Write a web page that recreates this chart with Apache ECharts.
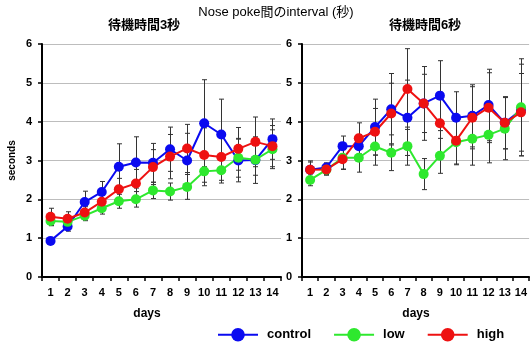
<!DOCTYPE html>
<html><head><meta charset="utf-8">
<script src="https://cdn.jsdelivr.net/npm/echarts@6/dist/echarts.min.js"></script>
<style>html,body{margin:0;padding:0;background:#fff}#c{width:530px;height:347px}</style>
</head><body><div id="c"></div>
<script>
const days = ['1','2','3','4','5','6','7','8','9','10','11','12','13','14'];
const yTicks = [0,1,2,3,4,5,6];
const seriesNames = ['control','low','high'];
const titleText = 'Nose poke間のinterval (秒)';
const panelTitles = ['待機時間3秒','待機時間6秒'];

// 待機時間3秒 (left panel)
const leftControl = [0.93,1.30,1.93,2.19,2.84,2.95,2.94,3.29,3.00,3.96,3.67,3.00,3.01,3.55];
const leftLow     = [1.44,1.42,1.58,1.77,1.95,2.00,2.23,2.20,2.32,2.72,2.75,3.07,3.02,3.29];
const leftHigh    = [1.55,1.50,1.66,1.94,2.26,2.41,2.83,3.10,3.31,3.14,3.09,3.30,3.48,3.37];
const leftControlErr = [0.05,0.12,0.28,0.27,0.59,0.66,0.50,0.57,0.70,1.12,0.91,0.55,0.60,0.52];
const leftLowErr     = [0.12,0.10,0.13,0.15,0.18,0.20,0.21,0.22,0.32,0.37,0.33,0.50,0.40,0.50];
const leftHighErr    = [0.22,0.18,0.15,0.25,0.28,0.36,0.45,0.57,0.62,0.70,0.60,0.55,0.64,0.53];

// 待機時間6秒 (right panel)
const rightControl = [2.76,2.82,3.37,3.37,3.86,4.32,4.10,4.47,4.67,4.10,4.15,4.43,3.97,4.30];
const rightLow     = [2.50,2.76,3.07,3.07,3.36,3.20,3.37,2.65,3.12,3.47,3.56,3.66,3.82,4.37];
const rightHigh    = [2.76,2.77,3.03,3.57,3.74,4.21,4.84,4.47,3.96,3.51,4.10,4.36,3.97,4.24];
const rightControlErr = [0.20,0.12,0.26,0.30,0.72,0.92,0.97,0.95,0.90,0.67,0.80,0.92,0.67,1.18];
const rightLowErr     = [0.15,0.12,0.30,0.37,0.48,0.46,0.49,0.40,0.45,0.58,0.68,0.72,0.80,1.25];
const rightHighErr    = [0.23,0.15,0.25,0.40,0.60,0.78,1.04,0.75,0.80,0.60,0.80,0.90,0.67,1.00];

const colors = {control:'#0a0af0', low:'#2ee82e', high:'#ee1111'};
const FONT = '"Liberation Sans", Arial, sans-serif';
const CJK = '"Liberation Sans", "Noto Sans CJK JP", sans-serif';

const chart = echarts.init(document.getElementById('c'), null, {renderer:'canvas'});

function errData(vals, errs){ return vals.map((v,i)=>[i, v-errs[i], v+errs[i]]); }
function errSeries(idx, vals, errs){
  return {
    type:'custom', xAxisIndex:idx, yAxisIndex:idx, z:1, silent:true,
    data: errData(vals, errs),
    renderItem: function(params, api){
      const lo = api.coord([api.value(0), api.value(1)]);
      const hi = api.coord([api.value(0), api.value(2)]);
      const x = Math.round(lo[0]) + 0.5, w = 2.5;
      const st = {stroke:'#333', lineWidth:1};
      return {type:'group', children:[
        {type:'line', shape:{x1:x,y1:lo[1],x2:x,y2:hi[1]}, style:st},
        {type:'line', shape:{x1:x-w,y1:lo[1],x2:x+w,y2:lo[1]}, style:st},
        {type:'line', shape:{x1:x-w,y1:hi[1],x2:x+w,y2:hi[1]}, style:st}
      ]};
    }
  };
}
function lineSeries(idx, name, vals){
  return {
    type:'line', name:name, xAxisIndex:idx, yAxisIndex:idx, z:3,
    data: vals, symbol:'circle', symbolSize:10, showSymbol:true,
    itemStyle:{color:colors[name]}, lineStyle:{color:colors[name], width:2},
    emphasis:{disabled:true}, animation:false
  };
}
function xAxis(idx){
  return {
    type:'category', gridIndex:idx, data:days, boundaryGap:true,
    axisLine:{lineStyle:{color:'#000', width:2}},
    axisTick:{show:true, alignWithLabel:false, length:4, inside:false, lineStyle:{color:'#000', width:1.5}},
    axisLabel:{color:'#000', fontWeight:'bold', fontSize:11, fontFamily:FONT, margin:10, interval:0},
    splitLine:{show:false}
  };
}
function yAxis(idx){
  return {
    type:'value', gridIndex:idx, min:yTicks[0], max:yTicks[yTicks.length-1], interval:1,
    name: idx===0 ? 'seconds' : '', nameLocation:'middle', nameRotate:90, nameGap:25,
    nameTextStyle:{color:'#000', fontWeight:'bold', fontSize:10, fontFamily:FONT},
    axisLine:{show:true, lineStyle:{color:'#000', width:2}},
    axisTick:{show:true, length:4, lineStyle:{color:'#000', width:1.5}},
    axisLabel:{color:'#000', fontWeight:'bold', fontSize:11, fontFamily:FONT, margin:10},
    splitLine:{show:true, lineStyle:{color:'#bdbdbd', width:1}}
  };
}

const option = {
  animation:false,
  backgroundColor:'#fff',
  grid:[
    {left:42, top:44, width:239, height:233},
    {left:302, top:44, width:230, height:233}
  ],
  xAxis:[xAxis(0), xAxis(1)],
  yAxis:[yAxis(0), yAxis(1)],
  legend:{
    data:seriesNames, left:212, top:323, itemWidth:40, itemHeight:17, itemGap:22,
    textStyle:{color:'#000', fontWeight:'bold', fontSize:13, fontFamily:FONT, padding:[0,0,0,4]},
    selectedMode:false
  },
  graphic:[
    {type:'text', x:276, y:12, style:{text:titleText, fill:'#000', font:'13px '+CJK, textAlign:'center', textVerticalAlign:'middle'}},
    {type:'text', x:144, y:25, style:{text:panelTitles[0], fill:'#000', font:'bold 13px '+CJK, textAlign:'center', textVerticalAlign:'middle'}},
    {type:'text', x:425, y:25, style:{text:panelTitles[1], fill:'#000', font:'bold 13px '+CJK, textAlign:'center', textVerticalAlign:'middle'}},
    {type:'text', x:147, y:314, style:{text:'days', fill:'#000', font:'bold 12px '+FONT, textAlign:'center', textVerticalAlign:'middle'}},
    {type:'text', x:416, y:314, style:{text:'days', fill:'#000', font:'bold 12px '+FONT, textAlign:'center', textVerticalAlign:'middle'}}
  ],
  series:[
    errSeries(0, leftControl, leftControlErr),
    errSeries(0, leftLow, leftLowErr),
    errSeries(0, leftHigh, leftHighErr),
    errSeries(1, rightControl, rightControlErr),
    errSeries(1, rightLow, rightLowErr),
    errSeries(1, rightHigh, rightHighErr),
    lineSeries(0,'control',leftControl),
    lineSeries(0,'low',leftLow),
    lineSeries(0,'high',leftHigh),
    lineSeries(1,'control',rightControl),
    lineSeries(1,'low',rightLow),
    lineSeries(1,'high',rightHigh)
  ]
};
chart.setOption(option);
</script></body></html>
